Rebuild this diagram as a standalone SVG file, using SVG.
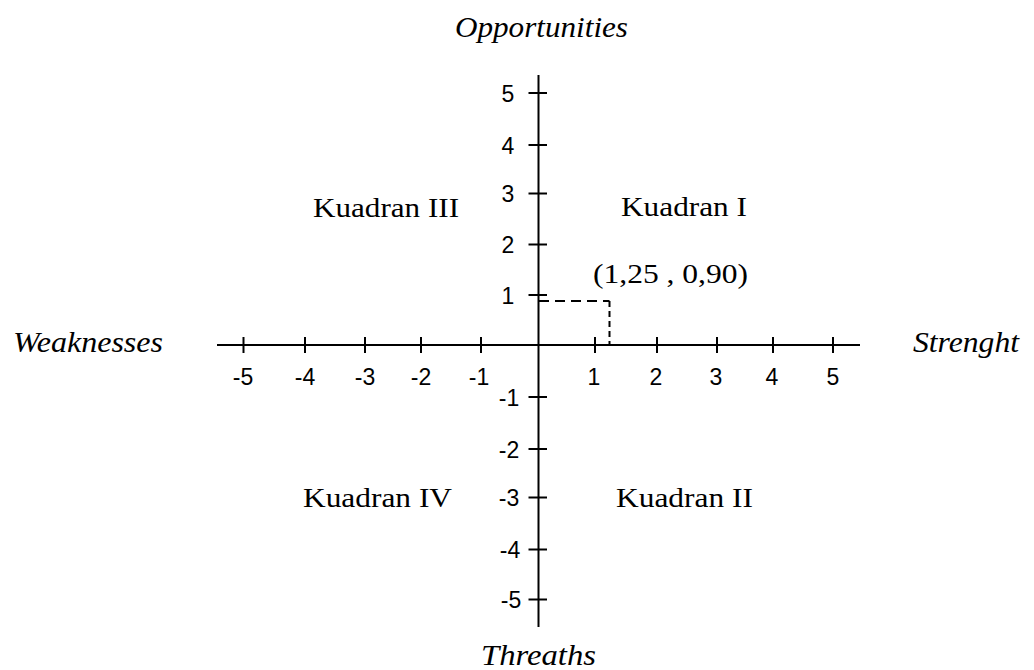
<svg xmlns="http://www.w3.org/2000/svg" width="1034" height="670" viewBox="0 0 1034 670">
<style>
.ax{stroke:#000;stroke-width:2;fill:none}
.tk{stroke:#000;stroke-width:2}
.num{font-family:"Liberation Sans",Arial,sans-serif;font-size:23px;fill:#000;text-anchor:middle}
.q{font-family:"Liberation Serif","Times New Roman",serif;font-size:28px;fill:#000}
.it{font-family:"Liberation Serif","Times New Roman",serif;font-size:29px;font-style:italic;fill:#000}
.dash{stroke:#000;stroke-width:2;fill:none}
</style>
<rect width="1034" height="670" fill="#fff"/>
<g id="connectors">
<line class="ax" x1="217" y1="345" x2="860" y2="345"/>
<line class="ax" x1="538.5" y1="75" x2="538.5" y2="627"/>
<g id="x-ticks">
<line class="tk" x1="243.5" y1="337" x2="243.5" y2="353"/>
<line class="tk" x1="305" y1="337" x2="305" y2="353"/>
<line class="tk" x1="365" y1="337" x2="365" y2="353"/>
<line class="tk" x1="421" y1="337" x2="421" y2="353"/>
<line class="tk" x1="481" y1="337" x2="481" y2="353"/>
<line class="tk" x1="595" y1="337" x2="595" y2="353"/>
<line class="tk" x1="657" y1="337" x2="657" y2="353"/>
<line class="tk" x1="717" y1="337" x2="717" y2="353"/>
<line class="tk" x1="773" y1="337" x2="773" y2="353"/>
<line class="tk" x1="833" y1="337" x2="833" y2="353"/>
</g>
<g id="y-ticks">
<line class="tk" x1="528.5" y1="93" x2="547" y2="93"/>
<line class="tk" x1="528.5" y1="145" x2="547" y2="145"/>
<line class="tk" x1="528.5" y1="193.5" x2="547" y2="193.5"/>
<line class="tk" x1="528.5" y1="244.5" x2="547" y2="244.5"/>
<line class="tk" x1="528.5" y1="295" x2="547" y2="295"/>
<line class="tk" x1="528.5" y1="397" x2="547" y2="397"/>
<line class="tk" x1="528.5" y1="449" x2="547" y2="449"/>
<line class="tk" x1="528.5" y1="497.5" x2="547" y2="497.5"/>
<line class="tk" x1="528.5" y1="549.5" x2="547" y2="549.5"/>
<line class="tk" x1="528.5" y1="599.5" x2="547" y2="599.5"/>
</g>
<line class="dash" x1="539" y1="301" x2="609.5" y2="301" stroke-dasharray="10,6"/>
<line class="dash" x1="609.5" y1="301" x2="609.5" y2="345" stroke-dasharray="6,4"/>
</g>
<g id="x-labels">
<text class="num" x="243" y="385">-5</text>
<text class="num" x="305" y="385">-4</text>
<text class="num" x="365" y="385">-3</text>
<text class="num" x="421" y="385">-2</text>
<text class="num" x="479" y="385">-1</text>
<text class="num" x="594" y="385">1</text>
<text class="num" x="656" y="385">2</text>
<text class="num" x="716" y="385">3</text>
<text class="num" x="772" y="385">4</text>
<text class="num" x="833" y="385">5</text>
</g>
<g id="y-labels">
<text class="num" x="508" y="101.5">5</text>
<text class="num" x="508" y="153.5">4</text>
<text class="num" x="508" y="202">3</text>
<text class="num" x="508" y="253">2</text>
<text class="num" x="508" y="303.5">1</text>
<text class="num" x="509" y="405.5">-1</text>
<text class="num" x="509" y="457.5">-2</text>
<text class="num" x="509" y="506">-3</text>
<text class="num" x="510" y="558">-4</text>
<text class="num" x="511" y="608">-5</text>
</g>
<g id="kuadran-1"><text class="q" x="621" y="216" textLength="126" lengthAdjust="spacingAndGlyphs">Kuadran I</text></g>
<g id="kuadran-2"><text class="q" x="616" y="506.5" textLength="137" lengthAdjust="spacingAndGlyphs">Kuadran II</text></g>
<g id="kuadran-3"><text class="q" x="313" y="217" textLength="146" lengthAdjust="spacingAndGlyphs">Kuadran III</text></g>
<g id="kuadran-4"><text class="q" x="303" y="506.5" textLength="149" lengthAdjust="spacingAndGlyphs">Kuadran IV</text></g>
<g id="point-label"><text class="q" x="593" y="283" textLength="155" lengthAdjust="spacingAndGlyphs">(1,25 , 0,90)</text></g>
<g id="opportunities"><text class="it" x="455" y="37" textLength="173" lengthAdjust="spacingAndGlyphs">Opportunities</text></g>
<g id="weaknesses"><text class="it" x="13" y="352" textLength="150" lengthAdjust="spacingAndGlyphs">Weaknesses</text></g>
<g id="strenght"><text class="it" x="913" y="352" textLength="106" lengthAdjust="spacingAndGlyphs">Strenght</text></g>
<g id="threaths"><text class="it" x="481" y="665" textLength="115" lengthAdjust="spacingAndGlyphs">Threaths</text></g>
</svg>
